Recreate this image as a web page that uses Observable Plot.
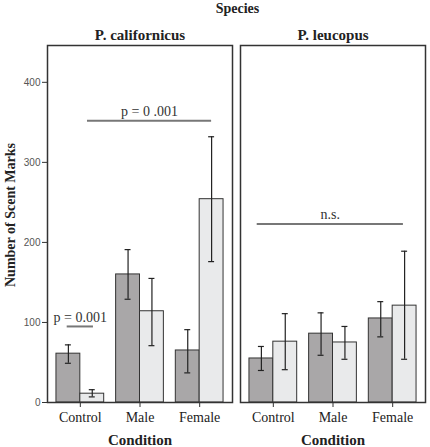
<!DOCTYPE html>
<html>
<head>
<meta charset="utf-8">
<script src="https://cdn.jsdelivr.net/npm/d3@7"></script>
<script src="https://cdn.jsdelivr.net/npm/@observablehq/plot@0.6"></script>
<style>
  html, body { margin: 0; padding: 0; background: #fff; }
  #chart svg { display: block; }
</style>
</head>
<body>
<div id="chart"></div>
<script>
// ---- data ----
const species = ["P. californicus", "P. leucopus"];
const conditions = ["Control", "Male", "Female"];
const groups = ["dark", "light"];

// means per species [dark, light] per condition
const calDarkMean = [61, 160, 65];
const calDarkLo   = [49, 129, 37];
const calDarkHi   = [72, 191, 91];
const calLightMean = [11, 114, 254];
const calLightLo   = [7, 71, 176];
const calLightHi   = [16, 155, 332];

const leuDarkMean = [55, 86, 105];
const leuDarkLo   = [40, 59, 82];
const leuDarkHi   = [70, 112, 126];
const leuLightMean = [76, 75, 121];
const leuLightLo   = [41, 54, 54];
const leuLightHi   = [111, 95, 189];

const yTicks = [0, 100, 200, 300, 400];

// annotations
const annSpecies = ["P. californicus", "P. californicus", "P. leucopus"];
const annFrom  = [0.12, -0.22, -0.27];
const annTo    = [2.2, 0.22, 2.18];
const annValue = [352, 95, 223];
const annLabel = ["p = 0 .001", "p = 0.001", "n.s."];

// ---- build table ----
const series = {
  "P. californicus": [[calDarkMean, calDarkLo, calDarkHi], [calLightMean, calLightLo, calLightHi]],
  "P. leucopus": [[leuDarkMean, leuDarkLo, leuDarkHi], [leuLightMean, leuLightLo, leuLightHi]]
};
const half = 0.4;
const rows = [];
species.forEach(s => {
  groups.forEach((g, gi) => {
    const [m, lo, hi] = series[s][gi];
    conditions.forEach((c, ci) => {
      const x1 = ci - half + gi * half;
      rows.push({species: s, group: g, condition: c, x1, x2: x1 + half, xc: x1 + half / 2, mean: m[ci], lo: lo[ci], hi: hi[ci]});
    });
  });
});
const anns = annSpecies.map((s, i) => ({species: s, x1: annFrom[i], x2: annTo[i], y: annValue[i], label: annLabel[i], xm: (annFrom[i] + annTo[i]) / 2}));
const cap = 0.05;

const serif = "Liberation Serif";
const sans = "Liberation Sans";

const chart = Plot.plot({
  width: 430,
  height: 447,
  marginLeft: 46,
  marginRight: 4,
  marginTop: 45,
  marginBottom: 45,
  style: {fontFamily: serif, background: "#fff", color: "#222"},
  fx: {domain: species, paddingInner: 0.0412, paddingOuter: 0},
  x: {domain: [-0.55, 2.55]},
  y: {domain: [0, 446]},
  color: {domain: groups, range: ["#a9a7a8", "#e9eaeb"]},
  marks: [
    Plot.rectY(rows, {fx: "species", x1: "x1", x2: "x2", y: "mean", fill: "group", stroke: "#333", strokeWidth: 1}),
    Plot.ruleX(rows, {fx: "species", x: "xc", y1: "lo", y2: "hi", stroke: "#222", strokeWidth: 1.2}),
    Plot.ruleY(rows, {fx: "species", y: "lo", x1: d => d.xc - cap, x2: d => d.xc + cap, stroke: "#222", strokeWidth: 1.2}),
    Plot.ruleY(rows, {fx: "species", y: "hi", x1: d => d.xc - cap, x2: d => d.xc + cap, stroke: "#222", strokeWidth: 1.2}),
    Plot.ruleY(anns, {fx: "species", y: "y", x1: "x1", x2: "x2", stroke: "#777", strokeWidth: 2}),
    Plot.text(anns, {fx: "species", x: "xm", y: "y", text: "label", dy: -9, fontSize: 14, fill: "#333", fontFamily: serif}),
    Plot.frame({stroke: "#333", strokeWidth: 1.5}),
    Plot.axisY({ticks: yTicks, tickSize: 5, tickPadding: 2, label: null, fontSize: 10, fontFamily: sans, fill: "#555", stroke: "#333"}),
    Plot.axisX({ticks: [0, 1, 2], tickFormat: i => conditions[i], tickSize: 5, tickPadding: 5, label: null, fontSize: 14, fontFamily: serif, fill: "#222", stroke: "#333"}),
    Plot.axisFx({anchor: "top", label: null, tickSize: 0, tickPadding: 6, fontSize: 15, fontWeight: "bold", fontFamily: serif, fill: "#222"}),
    Plot.text(species, {fx: d => d, frameAnchor: "bottom", text: () => "Condition", dy: 42, fontSize: 15, fontWeight: "bold", fontFamily: serif, fill: "#222"}),
    Plot.text([species[0]], {fx: d => d, frameAnchor: "left", textAnchor: "middle", text: () => "Number of Scent Marks", rotate: -90, dx: -37, dy: -9, fontSize: 14, fontWeight: "bold", fontFamily: serif, fill: "#222"}),
    Plot.text([species[0]], {fx: d => d, frameAnchor: "top-right", textAnchor: "middle", lineAnchor: "middle", text: () => "Species", dx: 5, dy: -37, fontSize: 14, fontWeight: "bold", fontFamily: serif, fill: "#222"})
  ]
});
document.getElementById("chart").appendChild(chart);
</script>
</body>
</html>
